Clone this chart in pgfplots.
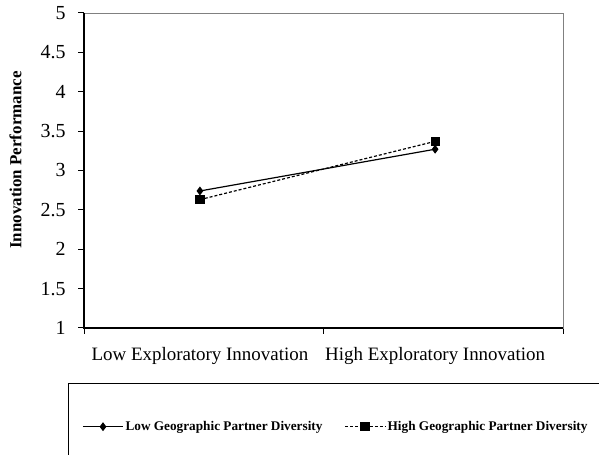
\documentclass[border=0pt]{standalone}
\usepackage{pgfplots}
\pgfplotsset{compat=1.18}
\usepackage{fontspec}
\setmainfont{Liberation Serif}
\begin{document}
\begin{tikzpicture}[x=1bp,y=1bp]
\useasboundingbox (0,0) rectangle (599,455);
\clip (0,0) rectangle (599,455);
\begin{axis}[
  at={(84bp,127bp)}, anchor=south west,
  scale only axis, width=479bp, height=315bp,
  xmin=0, xmax=2, ymin=1, ymax=5,
  xtick={0,1,2}, xticklabels={},
  extra x ticks={0.484,1.466},
  extra x tick labels={Low Exploratory Innovation, High Exploratory Innovation},
  extra x tick style={major tick length=0pt, tick label style={font=\fontsize{19}{21}\selectfont, yshift=-16bp}},
  ytick={1,1.5,...,5},
  yticklabel style={font=\fontsize{20}{22}\selectfont, xshift=-9bp},
  /pgf/number format/assume math mode=true,
  /pgf/number format/fixed,
  tick align=outside, major tick length=6bp,
  tick style={black, line width=1pt},
  xtick pos=bottom, ytick pos=left,
  axis line style={gray, line width=0.6pt},
  ylabel={\textbf{Innovation Performance}},
  ylabel style={font=\fontsize{17}{19}\selectfont, at={(axis description cs:-0.13,0.533)}, anchor=south, inner sep=0pt},
  clip=false,
  legend columns=2,
  legend cell align=left,
  legend style={at={(-16bp,-55bp)}, anchor=north west, draw=black, line width=0.8pt,
    font=\fontsize{13.3}{15}\bfseries\selectfont,
    inner xsep=14bp, inner ysep=36bp,
    /tikz/every even column/.append style={column sep=20bp}},
  legend image code/.code={
    \draw[mark repeat=2,mark phase=2,#1] plot coordinates {(0bp,0bp) (20bp,0bp) (40bp,0bp)};},
]
\addplot[black, line width=1.2pt, mark=diamond*, mark size=3.5bp, mark options={solid}] coordinates {(0.484,2.74) (1.466,3.27)};
\addlegendentry{Low Geographic Partner Diversity}
\addplot[black, line width=1.2pt, densely dashed, mark=square*, mark size=4bp, mark options={solid}] coordinates {(0.484,2.63) (1.466,3.37)};
\addlegendentry{High Geographic Partner Diversity}
\draw[black, line width=1.5pt] (rel axis cs:0,1) -- (rel axis cs:0,0) -- (rel axis cs:1,0);
\end{axis}
\end{tikzpicture}
\end{document}
